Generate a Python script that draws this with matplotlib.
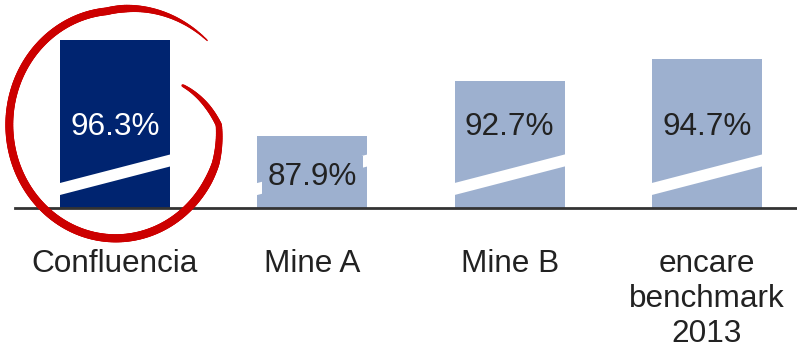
import numpy as np
import matplotlib.pyplot as plt
from matplotlib.collections import LineCollection
from matplotlib.patches import Polygon

plt.rcParams['font.family'] = ['Liberation Sans', 'DejaVu Sans']

categories = ["Confluencia", "Mine A", "Mine B", "encare\nbenchmark\n2013"]
values = [96.3, 87.9, 92.7, 94.7]
labels = ["96.3%", "87.9%", "92.7%", "94.7%"]

dark = "#002470"
light = "#9db0cf"
bar_colors = [dark, light, light, light]
text_colors = ["white", "#222222", "#222222", "#222222"]

W, H = 797, 351
fig = plt.figure(figsize=(W / 100, H / 100), dpi=100)
# axes: x from px 15 to 797, y from px 0 to 208 (baseline)
ax = fig.add_axes([15 / W, 1 - 208 / H, 1 - 15 / W, 208 / H])

ymin = 81.6
px_per_unit = 11.4
ymax = ymin + 208 / px_per_unit
x = np.arange(len(values))
width = 0.557
ax.bar(x, np.array(values) - ymin, bottom=ymin, width=width, color=bar_colors, zorder=2)
ax.set_xlim(-0.507, 3.457)
ax.set_ylim(ymin, ymax)
ax.axis("off")
ax.axhline(ymin, color="#333333", lw=2, zorder=3, clip_on=False)

# break marks (white slanted stripes)
u = 1 / px_per_unit
ext = 0.02
for xi in x:
    x0, x1 = xi - width / 2 - ext, xi + width / 2 + ext
    poly = Polygon([(x0, ymin + 12 * u), (x1, ymin + 42.5 * u),
                    (x1, ymin + 54.5 * u), (x0, ymin + 24 * u)],
                   closed=True, facecolor="white", edgecolor="none", zorder=3)
    ax.add_patch(poly)

fs = 22.7
for xi, v, lab, tc, bc in zip(x, values, labels, text_colors, bar_colors):
    if v < 90:
        ty = ymin + (208 - 177) * u
        ax.text(xi, ty, lab, ha="center", va="center", fontsize=fs, color=tc, zorder=4,
                bbox=dict(facecolor=bc, edgecolor="none", pad=4))
    else:
        ty = ymin + (208 - 127) * u
        ax.text(xi, ty, lab, ha="center", va="center", fontsize=fs, color=tc, zorder=4)

for xi, cat in zip(x, categories):
    ax.annotate(cat, (xi, ymin), xytext=(0, -29.5), textcoords="offset points",
                ha="center", va="top", fontsize=fs, color="#222222",
                linespacing=1.22, annotation_clip=False)

# red hand-drawn circle around the first bar
th = np.radians(np.linspace(41, 389, 400))
scale = np.interp(np.degrees(th), [41, 95, 340, 360, 389], [1.14, 1.01, 1.0, 0.97, 0.72])
cx, cy, rx, ry = 116, 125, 106, 113
px = cx + rx * scale * np.cos(th)
py = cy - ry * scale * np.sin(th)
pts = np.column_stack([px / W, 1 - py / H])
segs = np.stack([pts[:-1], pts[1:]], axis=1)
deg = np.degrees(th[:-1])
lw = np.interp(deg, [41, 85, 330, 370, 389], [1.0, 5.5, 6.0, 4.0, 2.0])
lc = LineCollection(segs, colors="#cc0000", linewidths=lw, capstyle="round",
                    transform=fig.transFigure, zorder=10)
fig.add_artist(lc)

fig.savefig("out.png", dpi=100)
